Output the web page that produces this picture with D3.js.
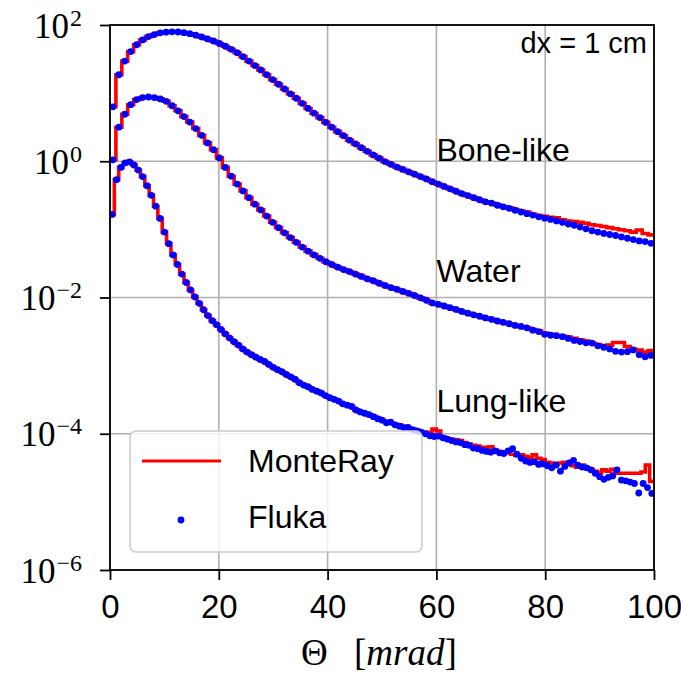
<!DOCTYPE html>
<html>
<head>
<meta charset="utf-8">
<script src="https://cdn.jsdelivr.net/npm/d3@7"></script>
<style>
  body { margin: 0; background: #fff; }
  svg { display: block; }
</style>
</head>
<body>
<svg id="chart" width="681" height="674"></svg>
<script>
// Angular bin centres (mrad): bone-like and water share one binning, lung-like uses finer bins
const thetaBins = [
  0.54, 1.63, 2.72, 3.80, 4.89, 5.98, 7.07, 8.15, 9.24, 10.33,
  11.41, 12.50, 13.59, 14.67, 15.76, 16.85, 17.93, 19.02, 20.11, 21.20,
  22.28, 23.37, 24.46, 25.54, 26.63, 27.72, 28.80, 29.89, 30.98, 32.07,
  33.15, 34.24, 35.33, 36.41, 37.50, 38.59, 39.67, 40.76, 41.85, 42.93,
  44.02, 45.11, 46.20, 47.28, 48.37, 49.46, 50.54, 51.63, 52.72, 53.80,
  54.89, 55.98, 57.07, 58.15, 59.24, 60.33, 61.41, 62.50, 63.59, 64.67,
  65.76, 66.85, 67.93, 69.02, 70.11, 71.20, 72.28, 73.37, 74.46, 75.54,
  76.63, 77.72, 78.80, 79.89, 80.98, 82.07, 83.15, 84.24, 85.33, 86.41,
  87.50, 88.59, 89.67, 90.76, 91.85, 92.93, 94.02, 95.11, 96.20, 97.28,
  98.37, 99.46
];
const thetaLung = [
  0.4, 1.2, 2.0, 2.8, 3.6, 4.4, 5.2, 6.0, 6.8, 7.6,
  8.4, 9.2, 10.0, 10.8, 11.6, 12.4, 13.2, 14.0, 14.8, 15.6,
  16.4, 17.2, 18.0, 18.8, 19.6, 20.4, 21.2, 22.0, 22.8, 23.6,
  24.4, 25.2, 26.0, 26.8, 27.6, 28.4, 29.2, 30.0, 30.8, 31.6,
  32.4, 33.2, 34.0, 34.8, 35.6, 36.4, 37.2, 38.0, 38.8, 39.6,
  40.4, 41.2, 42.0, 42.8, 43.6, 44.4, 45.2, 46.0, 46.8, 47.6,
  48.4, 49.2, 50.0, 50.8, 51.6, 52.4, 53.2, 54.0, 54.8, 55.6,
  56.4, 57.2, 58.0, 58.8, 59.6, 60.4, 61.2, 62.0, 62.8, 63.6,
  64.4, 65.2, 66.0, 66.8, 67.6, 68.4, 69.2, 70.0, 70.8, 71.6,
  72.4, 73.2, 74.0, 74.8, 75.6, 76.4, 77.2, 78.0, 78.8, 79.6,
  80.4, 81.2, 82.0, 82.8, 83.6, 84.4, 85.2, 86.0, 86.8, 87.6,
  88.4, 89.2, 90.0, 90.8, 91.6, 92.4, 93.2, 94.0, 94.8, 95.6,
  96.4, 97.2, 98.0, 98.8, 99.6
];

// Bone-like
const boneFluka = [
  6.3, 18.6, 29.5, 40.7, 51.3, 60.3, 67.6, 72.4, 76.7, 78.5,
  79.4, 78.9, 77.1, 74.5, 70.8, 66.8, 62.4, 58.2, 53.5, 48.8,
  44.0, 39.2, 34.3, 29.5, 25.4, 21.9, 18.6, 15.8, 13.5, 11.5,
  9.77, 8.41, 7.08, 5.96, 5.07, 4.37, 3.72, 3.16, 2.72, 2.37,
  2.04, 1.80, 1.58, 1.40, 1.24, 1.11, 0.989, 0.902, 0.822, 0.759,
  0.700, 0.646, 0.596, 0.550, 0.501, 0.462, 0.427, 0.394, 0.363, 0.335,
  0.313, 0.292, 0.272, 0.254, 0.243, 0.226, 0.214, 0.204, 0.191, 0.180,
  0.170, 0.162, 0.153, 0.146, 0.140, 0.133, 0.127, 0.120, 0.115, 0.108,
  0.102, 0.0955, 0.0912, 0.0871, 0.0841, 0.0813, 0.0776, 0.0741, 0.0708, 0.0676,
  0.0661, 0.0624
];
const boneMonteRay = [
  6.3, 18.6, 29.5, 40.7, 51.3, 60.3, 67.6, 72.4, 76.7, 78.5,
  79.4, 78.9, 77.1, 74.5, 70.8, 66.8, 62.4, 58.2, 53.5, 48.8,
  44.0, 39.2, 34.3, 29.5, 25.4, 21.9, 18.6, 15.8, 13.5, 11.5,
  9.77, 8.41, 7.08, 5.96, 5.07, 4.37, 3.72, 3.16, 2.72, 2.37,
  2.04, 1.80, 1.58, 1.40, 1.24, 1.11, 0.989, 0.902, 0.822, 0.759,
  0.700, 0.646, 0.596, 0.550, 0.501, 0.462, 0.427, 0.394, 0.363, 0.335,
  0.313, 0.292, 0.272, 0.254, 0.243, 0.229, 0.216, 0.207, 0.195, 0.186,
  0.180, 0.166, 0.160, 0.155, 0.151, 0.148, 0.138, 0.133, 0.130, 0.127,
  0.123, 0.117, 0.114, 0.110, 0.106, 0.102, 0.0989, 0.0955, 0.0912, 0.0977,
  0.0871, 0.0830
];

// Water
const waterFluka = [
  1.05, 3.16, 4.90, 6.76, 8.04, 8.61, 8.77, 8.61, 8.22, 7.59,
  6.53, 5.50, 4.52, 3.76, 3.02, 2.40, 1.86, 1.48, 1.12, 0.813,
  0.603, 0.462, 0.367, 0.292, 0.234, 0.193, 0.157, 0.127, 0.106, 0.0891,
  0.0759, 0.0646, 0.0550, 0.0479, 0.0422, 0.0376, 0.0335, 0.0305, 0.0279, 0.0257,
  0.0240, 0.0221, 0.0204, 0.0188, 0.0176, 0.0162, 0.0150, 0.0140, 0.0132, 0.0123,
  0.0115, 0.0107, 0.00989, 0.00912, 0.00832, 0.00794, 0.00750, 0.00708, 0.00668, 0.00624,
  0.00589, 0.00556, 0.00531, 0.00501, 0.00479, 0.00452, 0.00432, 0.00412, 0.00389, 0.00376,
  0.00359, 0.00331, 0.00316, 0.00288, 0.00279, 0.00275, 0.00266, 0.00251, 0.00234, 0.00226,
  0.00216, 0.00214, 0.00195, 0.00186, 0.00176, 0.00162, 0.00158, 0.00160, 0.00170, 0.00145,
  0.00135, 0.00141
];
const waterMonteRay = [
  1.05, 3.16, 4.90, 6.76, 8.04, 8.61, 8.77, 8.61, 8.22, 7.59,
  6.53, 5.50, 4.52, 3.76, 3.02, 2.40, 1.86, 1.48, 1.12, 0.813,
  0.603, 0.462, 0.367, 0.292, 0.234, 0.193, 0.157, 0.127, 0.106, 0.0891,
  0.0759, 0.0646, 0.0550, 0.0479, 0.0422, 0.0376, 0.0335, 0.0305, 0.0279, 0.0257,
  0.0240, 0.0221, 0.0204, 0.0188, 0.0176, 0.0162, 0.0150, 0.0140, 0.0132, 0.0123,
  0.0115, 0.0107, 0.00989, 0.00912, 0.00832, 0.00794, 0.00750, 0.00708, 0.00668, 0.00624,
  0.00589, 0.00556, 0.00531, 0.00501, 0.00479, 0.00452, 0.00432, 0.00412, 0.00389, 0.00376,
  0.00359, 0.00339, 0.00324, 0.00302, 0.00288, 0.00275, 0.00272, 0.00263, 0.00251, 0.00240,
  0.00229, 0.00214, 0.00204, 0.00193, 0.00200, 0.00219, 0.00219, 0.00191, 0.00174, 0.00170,
  0.00158, 0.00166
];

// Lung-like
const lungFluka = [
  1.66e-1, 5.37e-1, 8.13e-1, 9.44e-1, 9.77e-1, 8.81e-1, 7.41e-1, 5.96e-1, 4.37e-1, 3.16e-1,
  2.19e-1, 1.45e-1, 9.12e-2, 6.17e-2, 4.22e-2, 3.05e-2, 2.21e-2, 1.66e-2, 1.29e-2, 1.02e-2,
  8.22e-3, 6.61e-3, 5.43e-3, 4.57e-3, 3.98e-3, 3.39e-3, 2.92e-3, 2.54e-3, 2.24e-3, 2.00e-3,
  1.76e-3, 1.58e-3, 1.45e-3, 1.33e-3, 1.23e-3, 1.15e-3, 1.04e-3, 9.44e-4, 8.71e-4, 8.13e-4,
  7.41e-4, 6.84e-4, 6.31e-4, 5.62e-4, 5.19e-4, 4.90e-4, 4.47e-4, 4.22e-4, 3.98e-4, 3.63e-4,
  3.39e-4, 3.20e-4, 3.02e-4, 2.75e-4, 2.63e-4, 2.51e-4, 2.24e-4, 2.09e-4, 2.00e-4, 1.91e-4,
  1.78e-4, 1.66e-4, 1.58e-4, 1.45e-4, 1.48e-4, 1.35e-4, 1.29e-4, 1.23e-4, 1.24e-4, 1.15e-4,
  1.10e-4, 1.06e-4, 1.00e-4, 9.33e-5, 9.12e-5, 9.23e-5, 8.71e-5, 8.32e-5, 7.94e-5, 7.59e-5,
  7.41e-5, 6.92e-5, 6.76e-5, 6.17e-5, 6.03e-5, 5.69e-5, 5.50e-5, 5.37e-5, 5.62e-5, 5.25e-5,
  5.13e-5, 5.62e-5, 6.03e-5, 5.01e-5, 4.37e-5, 3.98e-5, 3.80e-5, 3.89e-5, 3.55e-5, 3.63e-5,
  3.39e-5, 3.16e-5, 3.47e-5, 2.82e-5, 3.31e-5, 3.72e-5, 4.07e-5, 3.47e-5, 3.24e-5, 3.16e-5,
  2.95e-5, 2.63e-5, 2.34e-5, 2.14e-5, 2.29e-5, 2.40e-5, 2.95e-5, 2.09e-5, 2.04e-5, 1.95e-5,
  1.86e-5, 1.35e-5, 1.86e-5, 1.62e-5, 1.33e-5
];
const lungMonteRay = [
  1.66e-1, 5.37e-1, 8.13e-1, 9.44e-1, 9.77e-1, 8.81e-1, 7.41e-1, 5.96e-1, 4.37e-1, 3.16e-1,
  2.19e-1, 1.45e-1, 9.12e-2, 6.17e-2, 4.22e-2, 3.05e-2, 2.21e-2, 1.66e-2, 1.29e-2, 1.02e-2,
  8.22e-3, 6.61e-3, 5.43e-3, 4.57e-3, 3.98e-3, 3.39e-3, 2.92e-3, 2.54e-3, 2.24e-3, 2.00e-3,
  1.76e-3, 1.58e-3, 1.45e-3, 1.33e-3, 1.23e-3, 1.15e-3, 1.04e-3, 9.44e-4, 8.71e-4, 8.13e-4,
  7.41e-4, 6.84e-4, 6.31e-4, 5.62e-4, 5.19e-4, 4.90e-4, 4.47e-4, 4.22e-4, 3.98e-4, 3.63e-4,
  3.39e-4, 3.20e-4, 3.02e-4, 2.75e-4, 2.63e-4, 2.51e-4, 2.24e-4, 2.09e-4, 2.00e-4, 1.91e-4,
  1.82e-4, 1.70e-4, 1.58e-4, 1.51e-4, 1.45e-4, 1.38e-4, 1.35e-4, 1.29e-4, 1.20e-4, 1.17e-4,
  1.12e-4, 1.07e-4, 1.02e-4, 1.05e-4, 1.17e-4, 1.10e-4, 8.91e-5, 8.51e-5, 8.32e-5, 8.13e-5,
  7.94e-5, 7.41e-5, 7.08e-5, 6.76e-5, 6.61e-5, 6.31e-5, 6.31e-5, 6.46e-5, 5.75e-5, 5.50e-5,
  5.37e-5, 5.25e-5, 5.01e-5, 4.79e-5, 4.90e-5, 4.68e-5, 4.47e-5, 4.90e-5, 4.37e-5, 4.17e-5,
  3.80e-5, 3.72e-5, 3.55e-5, 3.72e-5, 3.80e-5, 3.63e-5, 3.39e-5, 3.24e-5, 3.47e-5, 3.16e-5,
  3.02e-5, 2.82e-5, 2.69e-5, 2.95e-5, 2.82e-5, 3.02e-5, 2.63e-5, 2.63e-5, 2.63e-5, 2.63e-5,
  2.63e-5, 2.63e-5, 2.75e-5, 3.47e-5, 2.00e-5
];

const materials = ["Bone-like", "Water", "Lung-like"];
const xTickValues = [0, 20, 40, 60, 80, 100];
const yTickExponents = [2, 0, -2, -4, -6];
const legendLabels = ["MonteRay", "Fluka"];
const annotationText = "dx = 1 cm";

const series = [
  { name: materials[0], theta: thetaBins, mc: boneMonteRay, fluka: boneFluka, labelY: 1.0 },
  { name: materials[1], theta: thetaBins, mc: waterMonteRay, fluka: waterFluka, labelY: 1.7e-2 },
  { name: materials[2], theta: thetaLung, mc: lungMonteRay, fluka: lungFluka, labelY: 2.1e-4 }
];

const svg = d3.select("#chart");
const plot = { left: 110, right: 654, top: 25, bottom: 570 };

const x = d3.scaleLinear().domain([0, 100]).range([plot.left, plot.right]);
const y = d3.scaleLog().domain([1e-6, 1e2]).range([plot.bottom, plot.top]);

const SANS = "'Liberation Sans', Arial, sans-serif";
const SERIF = "'Liberation Serif', 'Times New Roman', serif";

svg.append("rect").attr("width", 681).attr("height", 674).attr("fill", "#fff");

svg.append("defs").append("clipPath").attr("id", "plotClip")
  .append("rect")
  .attr("x", plot.left).attr("y", plot.top)
  .attr("width", plot.right - plot.left).attr("height", plot.bottom - plot.top);

// grid
const grid = svg.append("g").attr("stroke", "#b0b0b0").attr("stroke-width", 1.6);
grid.selectAll("line.gx").data(xTickValues).join("line")
  .attr("x1", d => x(d)).attr("x2", d => x(d))
  .attr("y1", plot.top).attr("y2", plot.bottom);
grid.selectAll("line.gy").data(yTickExponents).join("line")
  .attr("x1", plot.left).attr("x2", plot.right)
  .attr("y1", d => y(Math.pow(10, d))).attr("y2", d => y(Math.pow(10, d)));

// data
const dataLayer = svg.append("g").attr("clip-path", "url(#plotClip)");

const stepLine = d3.line()
  .x(d => x(d[0]))
  .y(d => y(d[1]))
  .curve(d3.curveStepAfter);

series.forEach(s => {
  const half = (s.theta[1] - s.theta[0]) / 2;
  const pts = s.theta.map((t, i) => [t - half, s.mc[i]]);
  pts.push([s.theta[s.theta.length - 1] + half, s.mc[s.mc.length - 1]]);
  dataLayer.append("path")
    .attr("d", stepLine(pts))
    .attr("fill", "none")
    .attr("stroke", "#ff0000")
    .attr("stroke-width", 3.6);
});

series.forEach(s => {
  dataLayer.append("g").attr("fill", "#0000ff")
    .selectAll("circle")
    .data(s.theta.map((t, i) => [t, s.fluka[i]]))
    .join("circle")
    .attr("cx", d => x(d[0]))
    .attr("cy", d => y(d[1]))
    .attr("r", 3.4);
});

// axes
const xAxis = svg.append("g")
  .attr("transform", `translate(0,${plot.bottom})`)
  .call(d3.axisBottom(x).tickValues(xTickValues).tickSize(10).tickSizeOuter(0).tickFormat(d => d));
xAxis.select(".domain").remove();
xAxis.selectAll(".tick line").attr("stroke", "#000").attr("stroke-width", 1.8);
xAxis.selectAll(".tick text")
  .attr("y", 48).attr("dy", null)
  .attr("fill", "#000")
  .style("font-family", SANS).style("font-size", "33px");

const yAxis = svg.append("g")
  .attr("transform", `translate(${plot.left},0)`)
  .call(d3.axisLeft(y).tickValues(yTickExponents.map(e => Math.pow(10, e)))
    .tickSize(10).tickSizeOuter(0).tickFormat(""));
yAxis.select(".domain").remove();
yAxis.selectAll(".tick line").attr("stroke", "#000").attr("stroke-width", 1.8);
yAxis.selectAll(".tick").each(function (d) {
  const e = Math.round(Math.log10(d));
  const t = d3.select(this).append("text")
    .attr("x", -28).attr("y", 12)
    .attr("text-anchor", "end")
    .attr("fill", "#000")
    .style("font-family", SERIF).style("font-size", "35px");
  t.append("tspan").text("10");
  t.append("tspan").attr("dx", 1).attr("dy", -12).style("font-size", "24px")
    .text(e < 0 ? "\u2212" + Math.abs(e) : String(e));
});

// frame
svg.append("rect")
  .attr("x", plot.left).attr("y", plot.top)
  .attr("width", plot.right - plot.left).attr("height", plot.bottom - plot.top)
  .attr("fill", "none").attr("stroke", "#000").attr("stroke-width", 1.8);

// curve labels
svg.append("g").selectAll("text").data(series).join("text")
  .attr("x", x(60)).attr("y", d => y(d.labelY))
  .attr("fill", "#000")
  .style("font-family", SANS).style("font-size", "32px")
  .text(d => d.name);

svg.append("text")
  .attr("x", 647).attr("y", 53)
  .attr("text-anchor", "end")
  .attr("fill", "#000")
  .style("font-family", SANS).style("font-size", "29px")
  .text(annotationText);

// legend
const legend = svg.append("g");
legend.append("rect")
  .attr("x", 130).attr("y", 431).attr("width", 292).attr("height", 121)
  .attr("rx", 6).attr("ry", 6)
  .attr("fill", "#fff").attr("fill-opacity", 0.8)
  .attr("stroke", "#cccccc").attr("stroke-width", 1.6);
legend.append("line")
  .attr("x1", 142).attr("x2", 221).attr("y1", 461).attr("y2", 461)
  .attr("stroke", "#ff0000").attr("stroke-width", 3.2);
legend.append("circle")
  .attr("cx", 181).attr("cy", 520).attr("r", 3.4).attr("fill", "#0000ff");
legend.selectAll("text.lbl").data(legendLabels).join("text")
  .attr("x", 248).attr("y", (d, i) => i === 0 ? 472 : 528)
  .attr("fill", "#000")
  .style("font-family", SANS).style("font-size", "32px")
  .text(d => d);

// x-axis title: Θ [mrad]
const xt = svg.append("text")
  .attr("y", 665).attr("fill", "#000")
  .style("font-family", SERIF).style("font-size", "37px");
xt.append("tspan").attr("x", 301).text("\u0398");
xt.append("tspan").attr("x", 354).text("[");
xt.append("tspan").style("font-style", "italic").text("mrad");
xt.append("tspan").text("]");
</script>
</body>
</html>
